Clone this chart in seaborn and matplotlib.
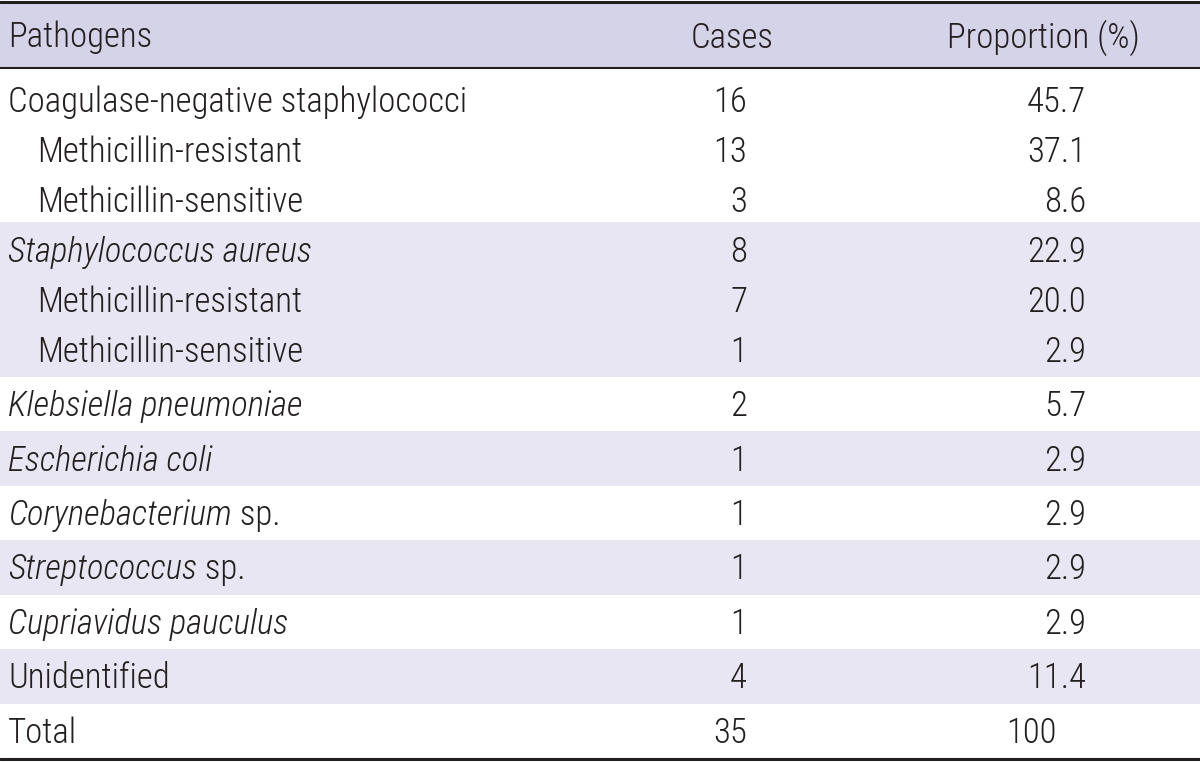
import matplotlib
matplotlib.use("Agg")
import matplotlib.pyplot as plt
from matplotlib import font_manager
import seaborn as sns

# table content
headers = ["Pathogens", "Cases", "Proportion (%)"]
pathogens = ["Coagulase-negative staphylococci", "Methicillin-resistant", "Methicillin-sensitive",
             "Staphylococcus aureus", "Methicillin-resistant", "Methicillin-sensitive",
             "Klebsiella pneumoniae", "Escherichia coli", "Corynebacterium", "Streptococcus",
             "Cupriavidus pauculus", "Unidentified", "Total"]
suffixes = ["", "", "", "", "", "", "", "", " sp.", " sp.", "", "", ""]
italic = [False, False, False, True, False, False, True, True, True, True, True, False, False]
indented = [False, True, True, False, True, True, False, False, False, False, False, False, False]
group = [0, 0, 0, 1, 1, 1, 2, 3, 4, 5, 6, 7, 8]
cases = [16, 13, 3, 8, 7, 1, 2, 1, 1, 1, 1, 4, 35]
proportion = [45.7, 37.1, 8.6, 22.9, 20.0, 2.9, 5.7, 2.9, 2.9, 2.9, 2.9, 11.4, 100]

sns.set_theme(style="white")

# pick a narrow font if one is installed
family = "DejaVu Sans"
for cand in ["Liberation Sans Narrow", "Roboto Condensed", "DejaVu Sans Condensed"]:
    try:
        font_manager.findfont(cand, fallback_to_default=False)
        family = cand
        break
    except Exception:
        pass
plt.rcParams["font.family"] = [family, "DejaVu Sans"]

W, H = 1200, 762
fig = plt.figure(figsize=(12, 7.62), dpi=100)
ax = fig.add_axes([0, 0, 1, 1])
ax.set_xlim(0, W)
ax.set_ylim(H, 0)
ax.axis("off")

ink = "#231f20"
header_bg = "#d4d3e7"
band_bg = "#e7e6f2"
fs = 25
fw = "light"

# layout (pixels)
head_top, head_bot = 3, 68
line_h, pad = 50, 4.44
x_left, x_indent = 8, 37
x_cases, x_prop, x_total_prop = 747, 1086, 1057
x_cases_head, x_prop_head = 732, 1043
cap_half = 12

kw = dict(fontsize=fs, color=ink, va="baseline", fontweight=fw)
hy = (head_top + head_bot) / 2 + cap_half
ax.axhspan(head_top, head_bot, color=header_bg, lw=0)
ax.text(x_left, hy, headers[0], ha="left", **kw)
ax.text(x_cases_head, hy, headers[1], ha="center", **kw)
ax.text(x_prop_head, hy, headers[2], ha="center", **kw)

renderer = fig.canvas.get_renderer()
n_groups = max(group) + 1
y = head_bot
centers = []
for g in range(n_groups):
    idx = [i for i, gg in enumerate(group) if gg == g]
    h = len(idx) * line_h + pad
    if g % 2 == 1:
        ax.axhspan(y, y + h, color=band_bg, lw=0)
    shift = 5 if g == 0 else 0
    for k, i in enumerate(idx):
        centers.append(y + pad / 2 + (k + 0.5) * line_h + shift)
    y += h
body_bot = y

for i, name in enumerate(pathogens):
    base = centers[i] + cap_half
    x0 = x_indent if indented[i] else x_left
    t = ax.text(x0, base, name, ha="left", style="italic" if italic[i] else "normal", **kw)
    if suffixes[i]:
        bb = t.get_window_extent(renderer)
        x1 = ax.transData.inverted().transform((bb.x1, 0))[0]
        ax.text(x1, base, suffixes[i], ha="left", **kw)
    ax.text(x_cases, base, str(cases[i]), ha="right", **kw)
    if name == "Total":
        ax.text(x_total_prop, base, f"{proportion[i]:.0f}", ha="right", **kw)
    else:
        ax.text(x_prop, base, f"{proportion[i]:.1f}", ha="right", **kw)

ax.axhline(1.5, color=ink, lw=2.2)
ax.axhline(head_bot, color=ink, lw=1.5)
ax.axhline(body_bot + 1, color=ink, lw=2.2)

fig.savefig("out.png", dpi=100)
